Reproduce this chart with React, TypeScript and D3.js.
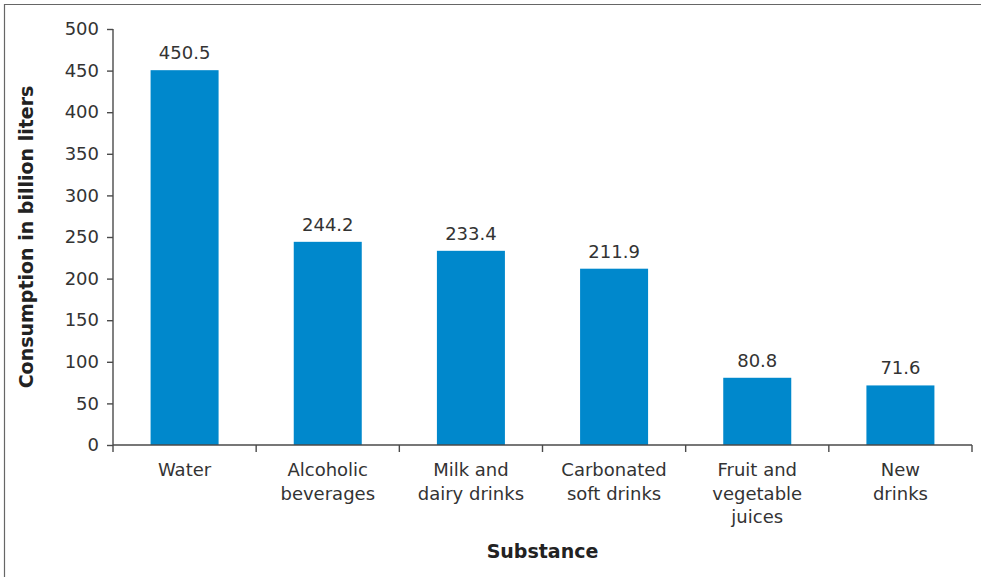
import { useEffect, useRef } from 'react';
import * as d3 from 'd3';

const CATEGORIES = [
  ['Water'],
  ['Alcoholic', 'beverages'],
  ['Milk and', 'dairy drinks'],
  ['Carbonated', 'soft drinks'],
  ['Fruit and', 'vegetable', 'juices'],
  ['New', 'drinks'],
];
const VALUES = [450.5, 244.2, 233.4, 211.9, 80.8, 71.6];
const Y_TICKS = [0, 50, 100, 150, 200, 250, 300, 350, 400, 450, 500];

const FONT = "'DejaVu Sans', 'Open Sans', sans-serif";
const TEXT = '#333333';
const AXIS = '#4a4a4a';
const BAR = '#0088CC';

export default function App() {
  const svgRef = useRef<SVGSVGElement>(null);

  useEffect(() => {
    const el = svgRef.current;
    if (!el) return;
    const svg = d3.select(el);
    svg.selectAll('*').remove();

    const W = 981;
    const H = 577;
    const margin = { top: 29, right: 9, bottom: 132, left: 113 };
    const iW = W - margin.left - margin.right;
    const iH = H - margin.top - margin.bottom;

    // frame (top and left edge visible in the original)
    svg.append('path')
      .attr('d', `M4.5,${H} L4.5,4.5 L${W},4.5`)
      .attr('fill', 'none')
      .attr('stroke', '#666')
      .attr('stroke-width', 1.2);

    const g = svg.append('g').attr('transform', `translate(${margin.left},${margin.top})`);

    const keys = CATEGORIES.map((c) => c.join(' '));
    const x = d3.scaleBand().domain(keys).range([0, iW]).paddingInner(0.525).paddingOuter(0.2625);
    const xTicks = d3.scaleBand().domain(keys).range([0, iW]);
    const y = d3.scaleLinear().domain([0, 500]).range([iH, 0]);

    // bars
    g.selectAll('rect.bar')
      .data(VALUES)
      .join('rect')
      .attr('class', 'bar')
      .attr('x', (_, i) => x(keys[i]) || 0)
      .attr('y', (d) => y(d))
      .attr('width', x.bandwidth())
      .attr('height', (d) => iH - y(d))
      .attr('fill', BAR);

    // value labels
    g.selectAll('text.val')
      .data(VALUES)
      .join('text')
      .attr('class', 'val')
      .attr('x', (_, i) => (x(keys[i]) || 0) + x.bandwidth() / 2)
      .attr('y', (d) => y(d) - 11)
      .attr('text-anchor', 'middle')
      .attr('font-family', FONT)
      .attr('font-size', '18px')
      .attr('fill', TEXT)
      .text((d) => d.toFixed(1));

    // y axis
    const yAxis = g.append('g')
      .call(d3.axisLeft(y).tickValues(Y_TICKS).tickSize(6).tickPadding(8));
    yAxis.selectAll('line').attr('stroke', AXIS).attr('stroke-width', 1.4);
    yAxis.select('.domain').attr('stroke', AXIS).attr('stroke-width', 1.4).attr('d', `M0,0V${iH}`);
    yAxis.selectAll('text')
      .attr('font-family', FONT).attr('font-size', '18px').attr('fill', TEXT);

    // x axis
    const xAxis = g.append('g').attr('transform', `translate(0,${iH})`);
    xAxis.append('line')
      .attr('x1', 0).attr('x2', iW).attr('y1', 0).attr('y2', 0)
      .attr('stroke', AXIS).attr('stroke-width', 1.4);
    const tickPos = [...keys.map((k) => xTicks(k) || 0), iW];
    xAxis.selectAll('line.tick')
      .data(tickPos)
      .join('line')
      .attr('class', 'tick')
      .attr('x1', (d) => d).attr('x2', (d) => d)
      .attr('y1', 0).attr('y2', 7)
      .attr('stroke', AXIS).attr('stroke-width', 1.4);

    CATEGORIES.forEach((lines, i) => {
      const cx = (x(keys[i]) || 0) + x.bandwidth() / 2;
      const t = xAxis.append('text')
        .attr('x', cx)
        .attr('y', 31)
        .attr('text-anchor', 'middle')
        .attr('font-family', FONT)
        .attr('font-size', '18px')
        .attr('fill', TEXT);
      lines.forEach((ln, j) => {
        t.append('tspan').attr('x', cx).attr('dy', j === 0 ? 0 : 23.5).text(ln);
      });
    });

    // axis titles
    g.append('text')
      .attr('transform', `translate(${-80},${iH / 2}) rotate(-90)`)
      .attr('text-anchor', 'middle')
      .attr('font-family', FONT)
      .attr('font-size', '19px')
      .attr('font-weight', '700')
      .attr('fill', '#222')
      .text('Consumption in billion liters');

    g.append('text')
      .attr('x', iW / 2)
      .attr('y', iH + 113)
      .attr('text-anchor', 'middle')
      .attr('font-family', FONT)
      .attr('font-size', '19px')
      .attr('font-weight', '700')
      .attr('fill', '#222')
      .text('Substance');
  }, []);

  return (
    <svg
      ref={svgRef}
      width={981}
      height={577}
      style={{ display: 'block', position: 'absolute', left: 0, top: 0, background: '#fff' }}
    />
  );
}
